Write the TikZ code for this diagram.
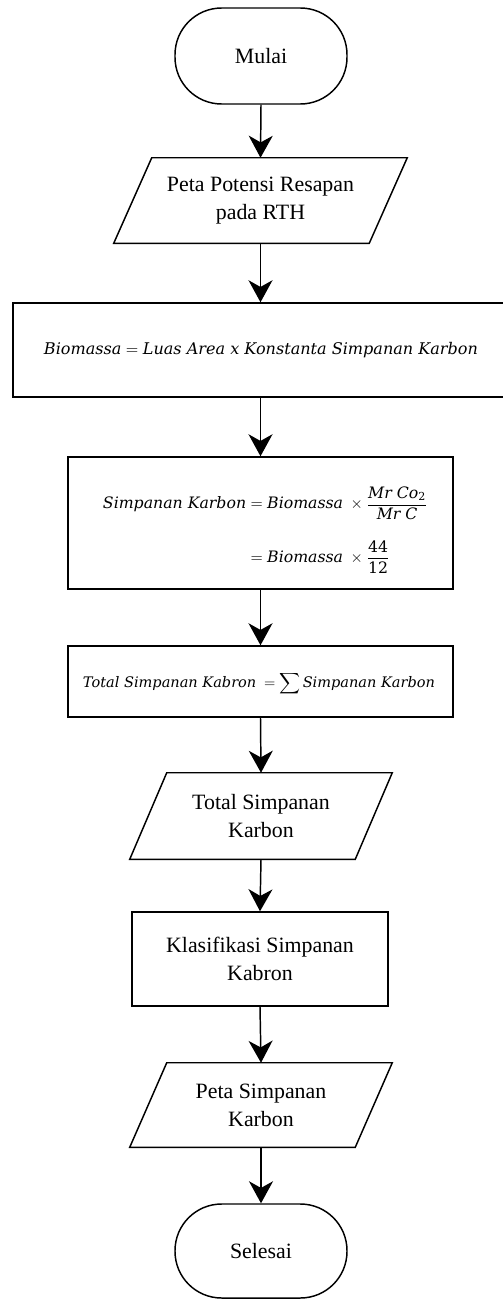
\documentclass[tikz,border=0pt]{standalone}
\usepackage{amsmath}
\usepackage[no-math]{fontspec}
\setmainfont{Liberation Serif}
\newfontfamily\eqfont{DejaVu Serif}
\newcommand{\eqt}[1]{\text{\eqfont\itshape #1}}
\newcommand{\eqn}[1]{\text{\eqfont #1}}
\usepackage{graphicx}
\usetikzlibrary{arrows.meta}
\tikzset{
  line/.style={line width=1.1pt, draw=black},
  txt/.style={font=\fontsize{16.4}{21}\selectfont, align=center},
  term/.style={line, txt, rectangle, rounded corners=35pt, minimum width=129pt, minimum height=72pt, inner sep=0pt},
  iobox/.style={txt, rectangle, draw=none, inner sep=0pt},
  proc/.style={line, txt, rectangle, inner sep=0pt},
  eqnode/.style={inner sep=0pt},
  flow/.style={line, -{Stealth[length=16.5pt,width=18pt,inset=5pt]}}
}
\begin{document}
\begin{tikzpicture}[x=0.75pt,y=-0.75pt]
\useasboundingbox (0,0) rectangle (503,1299);
% nodes
\node[term] (start) at (261,56) {Mulai};
\node[iobox, minimum width=219.75pt, minimum height=63.75pt] (in1) at (260.5,200.5) {Peta Potensi Resapan\\pada RTH};
\draw[line] ([xshift=28.5pt]in1.north west) -- (in1.north east) -- ([xshift=-28.5pt]in1.south east) -- (in1.south west) -- cycle;
\node[proc, minimum width=371.25pt, minimum height=70.5pt] (p1) at (260.5,350) {};
\node[eqnode] (e1) at (261,350) {\resizebox{325.5pt}{!}{$\eqt{Biomassa} = \eqt{Luas Area x Konstanta Simpanan Karbon}$}};
\node[proc, minimum width=288.75pt, minimum height=99pt] (p2) at (260.5,523) {};
\node[eqnode] (e2) at (265.5,530) {\resizebox{243.75pt}{!}{$\begin{aligned} \eqt{Simpanan Karbon} &= \eqt{Biomassa}\ \times \dfrac{\eqt{Mr Co}_{\eqn{2}}}{\eqt{Mr C}}\\[9pt] &= \eqt{Biomassa}\ \times \dfrac{\eqn{44}}{\eqn{12}}\end{aligned}$}};
\node[proc, minimum width=288.75pt, minimum height=53.25pt] (p3) at (260.5,681.5) {};
\node[eqnode] (e3) at (259,684) {\resizebox{264pt}{!}{$\eqt{Total Simpanan Kabron}\ = \displaystyle\sum \eqt{Simpanan Karbon}$}};
\node[iobox, minimum width=196.5pt, minimum height=64.5pt] (out1) at (261,816) {Total Simpanan\\Karbon};
\draw[line] ([xshift=27.75pt]out1.north west) -- (out1.north east) -- ([xshift=-27.75pt]out1.south east) -- (out1.south west) -- cycle;
\node[proc, minimum width=192pt, minimum height=70.5pt] (p4) at (260,959) {Klasifikasi Simpanan\\Kabron};
\node[iobox, minimum width=196.5pt, minimum height=63pt] (out2) at (261,1105) {Peta Simpanan\\Karbon};
\draw[line] ([xshift=27.75pt]out2.north west) -- (out2.north east) -- ([xshift=-27.75pt]out2.south east) -- (out2.south west) -- cycle;
\node[term, minimum height=70.5pt] (end) at (261,1251) {Selesai};
% connectors
\draw[flow] (start.south) -- (in1.north);
\draw[flow] (in1.south) -- (p1.north);
\draw[flow] (p1.south) -- (p2.north);
\draw[flow] (p2.south) -- (p3.north);
\draw[flow] (p3.south) -- (out1.north);
\draw[flow] (out1.south) -- (p4.north);
\draw[flow] (p4.south) -- (out2.north);
\draw[flow] (out2.south) -- (end.north);
\end{tikzpicture}
\end{document}
